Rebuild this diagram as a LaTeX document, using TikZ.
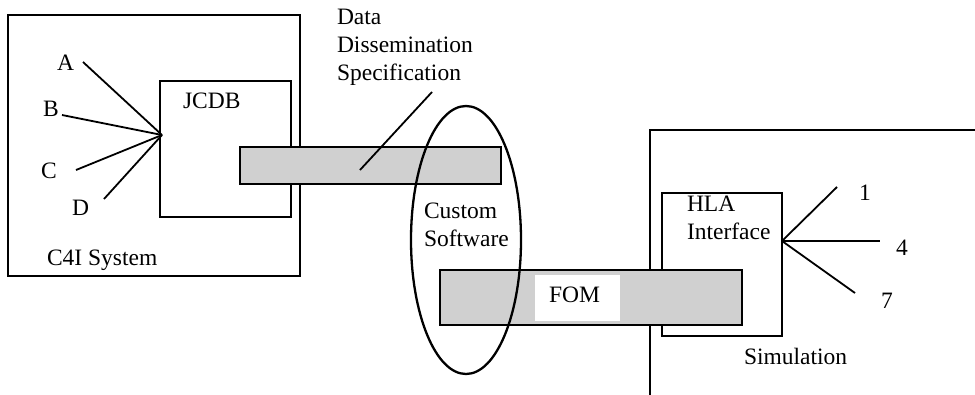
\documentclass[tikz,border=0pt]{standalone}
\usepackage{fontspec}
\setmainfont{Liberation Serif}
\usetikzlibrary{shapes.geometric}
\definecolor{bargray}{HTML}{D0D0D0}
\begin{document}
\begin{tikzpicture}[x=1pt,y=-1pt,
  every node/.style={inner sep=0pt, outer sep=0pt, font=\fontsize{23.5}{28}\selectfont},
  frame/.style={draw, line width=2.6pt, rectangle},
  bar/.style={draw, line width=2.3pt, fill=bargray, rectangle},
  lbl/.style={anchor=base west},
  block/.style={anchor=north west, align=left},
  ray/.style={line width=1.8pt},
  leader/.style={line width=1.8pt}]
\useasboundingbox (0,0) rectangle (975,394);
% C4I system
\node[frame, minimum width=292pt, minimum height=261pt] (c4i) at (154,145.5) {};
\node[frame, minimum width=131pt, minimum height=136pt] (jcdb) at (225.5,149) {};
\node[lbl] (jcdbt) at (183,108) {JCDB};
\node[lbl] (c4it) at (47,265) {C4I System};
\node[lbl] (la) at (57,70) {A};
\node[lbl] (lb) at (43,116) {B};
\node[lbl] (lc) at (41,178) {C};
\node[lbl] (ld) at (72,215) {D};
\coordinate (fan) at (162,135);
\coordinate (ea) at (83,62);
\coordinate (eb) at (62,115);
\coordinate (ec) at (76,170);
\coordinate (ed) at (104,199);
\draw[ray] (ea) -- (fan);
\draw[ray] (eb) -- (fan);
\draw[ray] (ec) -- (fan);
\draw[ray] (ed) -- (fan);
% data dissemination bar
\node[bar, minimum width=261pt, minimum height=37pt] (dds) at (370.5,165.5) {};
\node[block] (ddst) at (337,9) {Data\\Dissemination\\Specification};
\coordinate (ddsin) at (360,170);
\coordinate (ddsout) at (432,92);
\draw[leader] (ddsin) -- (ddsout);
% simulation
\coordinate (simtl) at (650,130);
\coordinate (simbl) at (650,400);
\coordinate (simtr) at (980,130);
\draw[line width=2.6pt] (simbl) -- (simtl) -- (simtr);
\node[frame, minimum width=120pt, minimum height=143pt] (hla) at (722,264.5) {};
\node[block] (hlat) at (687,196) {HLA\\Interface};
\node[lbl] (simt) at (744,364) {Simulation};
\coordinate (hfan) at (782,241);
\coordinate (e1) at (837,187);
\coordinate (e4) at (880,241);
\coordinate (e7) at (855,293);
\draw[ray] (hfan) -- (e1);
\draw[ray] (hfan) -- (e4);
\draw[ray] (hfan) -- (e7);
\node[lbl] (l1) at (859,200) {1};
\node[lbl] (l4) at (896,255) {4};
\node[lbl] (l7) at (881,308) {7};
% FOM bar
\node[bar, minimum width=302pt, minimum height=55pt] (fom) at (591,297.5) {};
\node[fill=white, minimum width=85pt, minimum height=46pt] (fombox) at (577.5,298) {};
\node[lbl] (fomt) at (549,302) {FOM};
% custom software
\node[block] (cst) at (424,203) {Custom\\Software};
\node[draw, ellipse, line width=2.3pt, minimum width=110pt, minimum height=268pt] (cs) at (466,240) {};
\end{tikzpicture}
\end{document}
